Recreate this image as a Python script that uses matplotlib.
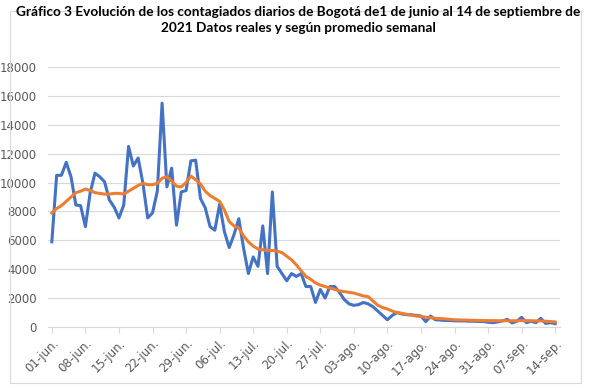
import matplotlib.pyplot as plt
from matplotlib.patches import Rectangle

# daily cases (blue) and weekly average (orange), 1 jun - 14 sep 2021
reales = [5900, 10500, 10500, 11400, 10400, 8450, 8400, 6950, 9300, 10650,
          10400, 10050, 8800, 8300, 7550, 8450, 12500, 11150, 11700, 9950,
          7550, 7900, 9400, 15500, 9700, 11000, 7050, 9350, 9450, 11500,
          11550, 8900, 8250, 6950, 6700, 8500, 6600, 5500, 6400, 7500,
          5450, 3700, 4850, 4200, 7000, 3700, 9350, 4200, 3700, 3200,
          3700, 3500, 3700, 2800, 2800, 1700, 2600, 2000, 2800, 2800,
          2400, 1900, 1600, 1500, 1550, 1700, 1600, 1400, 1100, 800,
          500, 800, 1000, 900, 850, 850, 800, 760, 370, 760,
          500, 480, 450, 450, 430, 420, 420, 400, 400, 380,
          380, 330, 300, 350, 420, 530, 280, 400, 670, 300,
          400, 300, 600, 250, 300, 230]
promedio = [7900, 8200, 8400, 8700, 9000, 9300, 9400, 9550, 9450, 9300,
            9250, 9200, 9200, 9250, 9250, 9200, 9400, 9600, 9800, 9950,
            9850, 9850, 9950, 10300, 10400, 10100, 9750, 9700, 10000, 10450,
            10200, 9900, 9400, 9100, 8900, 8700, 8100, 7300, 7000, 6850,
            6300, 5900, 5600, 5400, 5350, 5300, 5300, 5250, 5150, 4900,
            4650, 4300, 3900, 3500, 3300, 3050, 2900, 2800, 2700, 2600,
            2500, 2450, 2400, 2350, 2250, 2150, 2100, 1800, 1500, 1350,
            1250, 1100, 1000, 950, 880, 820, 760, 720, 680, 640,
            600, 580, 560, 530, 500, 490, 480, 470, 460, 450,
            445, 440, 440, 435, 430, 430, 430, 435, 440, 440,
            430, 425, 420, 400, 380, 350]
etiquetas = ['01-jun.', '08-jun.', '15-jun.', '22-jun.', '29-jun.', '06-jul.',
             '13-jul.', '20-jul.', '27-jul.', '03-ago.', '10-ago.', '17-ago.',
             '24-ago.', '31-ago.', '07-sep.', '14-sep.']

dias = list(range(len(reales)))

fig = plt.figure(figsize=(5.96, 3.88), dpi=100)
ax = fig.add_axes([48/596, 1-327/388, (560-48)/596, (327-67)/388])

ax.plot(dias, reales, color='#4472C4', lw=2.2, solid_joinstyle='round')
ax.plot(dias, promedio, color='#ED7D31', lw=2.2, solid_joinstyle='round')

ax.set_ylim(0, 18000)
ax.set_xlim(-0.8, 106)
ax.set_yticks(range(0, 18001, 2000))
ax.set_xticks(dias[::7])
ax.set_xticklabels(etiquetas, rotation=45, ha='right', rotation_mode='anchor')
ax.tick_params(axis='y', length=0, labelsize=8.5, colors='#595959', pad=8)
ax.tick_params(axis='x', length=4, width=0.8, color='#D9D9D9',
               labelsize=8.5, labelcolor='#595959', pad=3)
ax.grid(axis='y', color='#D9D9D9', lw=0.8)
ax.set_axisbelow(True)
for s in ['top', 'right', 'left']:
    ax.spines[s].set_visible(False)
ax.spines['bottom'].set_color('#D9D9D9')

fig.text(0.5, 0.985, 'Gráfico 3 Evolución de los contagiados diarios de Bogotá de1 de junio al 14 de septiembre de\n2021 Datos reales y según promedio semanal',
         ha='center', va='top', fontsize=9.8, fontweight='bold',
         family=['Lato', 'DejaVu Sans'], linespacing=1.45)

fig.patches.append(Rectangle((10/596, 5/388), 571/596, 372/388, transform=fig.transFigure,
                             fill=False, edgecolor='#D9D9D9', lw=0.8))

fig.savefig('out.png', dpi=100)
